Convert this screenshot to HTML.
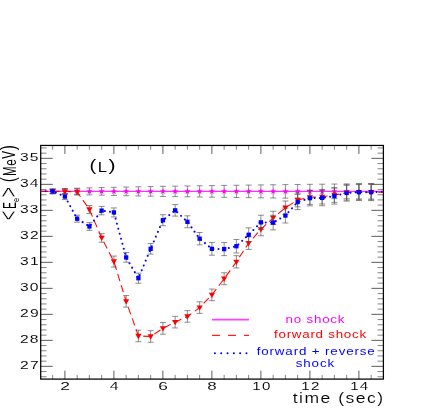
<!DOCTYPE html>
<html><head><meta charset="utf-8"><title>chart</title>
<style>
html,body{margin:0;padding:0;background:#fff;}
body{width:436px;height:409px;position:relative;overflow:hidden;font-family:"Liberation Sans",sans-serif;}
.t{position:absolute;white-space:nowrap;line-height:1;transform-origin:left top;color:#111;font-family:"Liberation Sans",sans-serif;}
</style></head><body>
<svg width="436" height="409" viewBox="0 0 436 409" style="position:absolute;left:0;top:0;will-change:transform">
<defs><clipPath id="c"><rect x="40.70" y="145.45" width="342.70" height="233.65"/></clipPath></defs>
<path d="M64.90 379.10 v-8.50 M64.90 145.45 v8.50 M113.90 379.10 v-8.50 M113.90 145.45 v8.50 M162.90 379.10 v-8.50 M162.90 145.45 v8.50 M211.90 379.10 v-8.50 M211.90 145.45 v8.50 M260.90 379.10 v-8.50 M260.90 145.45 v8.50 M309.90 379.10 v-8.50 M309.90 145.45 v8.50 M358.90 379.10 v-8.50 M358.90 145.45 v8.50 M40.70 366.35 h12.00 M383.40 366.35 h-12.00 M40.70 340.35 h12.00 M383.40 340.35 h-12.00 M40.70 314.35 h12.00 M383.40 314.35 h-12.00 M40.70 288.35 h12.00 M383.40 288.35 h-12.00 M40.70 262.35 h12.00 M383.40 262.35 h-12.00 M40.70 236.35 h12.00 M383.40 236.35 h-12.00 M40.70 210.35 h12.00 M383.40 210.35 h-12.00 M40.70 184.35 h12.00 M383.40 184.35 h-12.00 M40.70 158.35 h12.00 M383.40 158.35 h-12.00" stroke="#333" stroke-width="0.8" fill="none"/>
<path d="M52.65 379.10 v-4.20 M52.65 145.45 v4.20 M77.15 379.10 v-4.20 M77.15 145.45 v4.20 M89.40 379.10 v-4.20 M89.40 145.45 v4.20 M101.65 379.10 v-4.20 M101.65 145.45 v4.20 M126.15 379.10 v-4.20 M126.15 145.45 v4.20 M138.40 379.10 v-4.20 M138.40 145.45 v4.20 M150.65 379.10 v-4.20 M150.65 145.45 v4.20 M175.15 379.10 v-4.20 M175.15 145.45 v4.20 M187.40 379.10 v-4.20 M187.40 145.45 v4.20 M199.65 379.10 v-4.20 M199.65 145.45 v4.20 M224.15 379.10 v-4.20 M224.15 145.45 v4.20 M236.40 379.10 v-4.20 M236.40 145.45 v4.20 M248.65 379.10 v-4.20 M248.65 145.45 v4.20 M273.15 379.10 v-4.20 M273.15 145.45 v4.20 M285.40 379.10 v-4.20 M285.40 145.45 v4.20 M297.65 379.10 v-4.20 M297.65 145.45 v4.20 M322.15 379.10 v-4.20 M322.15 145.45 v4.20 M334.40 379.10 v-4.20 M334.40 145.45 v4.20 M346.65 379.10 v-4.20 M346.65 145.45 v4.20 M371.15 379.10 v-4.20 M371.15 145.45 v4.20 M40.70 376.75 h5.80 M383.40 376.75 h-5.80 M40.70 371.55 h5.80 M383.40 371.55 h-5.80 M40.70 361.15 h5.80 M383.40 361.15 h-5.80 M40.70 355.95 h5.80 M383.40 355.95 h-5.80 M40.70 350.75 h5.80 M383.40 350.75 h-5.80 M40.70 345.55 h5.80 M383.40 345.55 h-5.80 M40.70 335.15 h5.80 M383.40 335.15 h-5.80 M40.70 329.95 h5.80 M383.40 329.95 h-5.80 M40.70 324.75 h5.80 M383.40 324.75 h-5.80 M40.70 319.55 h5.80 M383.40 319.55 h-5.80 M40.70 309.15 h5.80 M383.40 309.15 h-5.80 M40.70 303.95 h5.80 M383.40 303.95 h-5.80 M40.70 298.75 h5.80 M383.40 298.75 h-5.80 M40.70 293.55 h5.80 M383.40 293.55 h-5.80 M40.70 283.15 h5.80 M383.40 283.15 h-5.80 M40.70 277.95 h5.80 M383.40 277.95 h-5.80 M40.70 272.75 h5.80 M383.40 272.75 h-5.80 M40.70 267.55 h5.80 M383.40 267.55 h-5.80 M40.70 257.15 h5.80 M383.40 257.15 h-5.80 M40.70 251.95 h5.80 M383.40 251.95 h-5.80 M40.70 246.75 h5.80 M383.40 246.75 h-5.80 M40.70 241.55 h5.80 M383.40 241.55 h-5.80 M40.70 231.15 h5.80 M383.40 231.15 h-5.80 M40.70 225.95 h5.80 M383.40 225.95 h-5.80 M40.70 220.75 h5.80 M383.40 220.75 h-5.80 M40.70 215.55 h5.80 M383.40 215.55 h-5.80 M40.70 205.15 h5.80 M383.40 205.15 h-5.80 M40.70 199.95 h5.80 M383.40 199.95 h-5.80 M40.70 194.75 h5.80 M383.40 194.75 h-5.80 M40.70 189.55 h5.80 M383.40 189.55 h-5.80 M40.70 179.15 h5.80 M383.40 179.15 h-5.80 M40.70 173.95 h5.80 M383.40 173.95 h-5.80 M40.70 168.75 h5.80 M383.40 168.75 h-5.80 M40.70 163.55 h5.80 M383.40 163.55 h-5.80 M40.70 153.15 h5.80 M383.40 153.15 h-5.80 M40.70 147.95 h5.80 M383.40 147.95 h-5.80" stroke="#666" stroke-width="0.8" fill="none"/>
<rect x="40.70" y="145.45" width="342.70" height="233.65" fill="none" stroke="#000" stroke-width="1.25"/>
<g clip-path="url(#c)">
<path d="M52.65 189.16 V193.58 M49.65 189.16 h6 M49.65 193.58 h6 M64.90 188.62 V194.12 M61.90 188.62 h6 M61.90 194.12 h6 M77.15 188.20 V194.54 M74.15 188.20 h6 M74.15 194.54 h6 M89.40 187.85 V194.89 M86.40 187.85 h6 M86.40 194.89 h6 M101.65 187.54 V195.20 M98.65 187.54 h6 M98.65 195.20 h6 M113.90 187.27 V195.47 M110.90 187.27 h6 M110.90 195.47 h6 M126.15 187.01 V195.73 M123.15 187.01 h6 M123.15 195.73 h6 M138.40 186.77 V195.97 M135.40 186.77 h6 M135.40 195.97 h6 M150.65 186.55 V196.19 M147.65 186.55 h6 M147.65 196.19 h6 M162.90 186.33 V196.41 M159.90 186.33 h6 M159.90 196.41 h6 M175.15 186.13 V196.61 M172.15 186.13 h6 M172.15 196.61 h6 M187.40 185.94 V196.80 M184.40 185.94 h6 M184.40 196.80 h6 M199.65 185.75 V196.99 M196.65 185.75 h6 M196.65 196.99 h6 M211.90 185.58 V197.16 M208.90 185.58 h6 M208.90 197.16 h6 M224.15 185.40 V197.34 M221.15 185.40 h6 M221.15 197.34 h6 M236.40 185.24 V197.50 M233.40 185.24 h6 M233.40 197.50 h6 M248.65 185.08 V197.66 M245.65 185.08 h6 M245.65 197.66 h6 M260.90 184.92 V197.82 M257.90 184.92 h6 M257.90 197.82 h6 M273.15 184.77 V197.97 M270.15 184.77 h6 M270.15 197.97 h6 M285.40 184.62 V198.12 M282.40 184.62 h6 M282.40 198.12 h6 M297.65 184.48 V198.26 M294.65 184.48 h6 M294.65 198.26 h6 M309.90 184.33 V198.41 M306.90 184.33 h6 M306.90 198.41 h6 M322.15 184.20 V198.54 M319.15 184.20 h6 M319.15 198.54 h6 M334.40 184.06 V198.68 M331.40 184.06 h6 M331.40 198.68 h6 M346.65 183.93 V198.81 M343.65 183.93 h6 M343.65 198.81 h6 M358.90 183.80 V198.94 M355.90 183.80 h6 M355.90 198.94 h6 M371.15 183.67 V199.07 M368.15 183.67 h6 M368.15 199.07 h6" stroke="#505050" stroke-width="0.65" fill="none"/>
<polyline points="40.40,191.37 52.65,191.37 64.90,191.37 77.15,191.37 89.40,191.37 101.65,191.37 113.90,191.37 126.15,191.37 138.40,191.37 150.65,191.37 162.90,191.37 175.15,191.37 187.40,191.37 199.65,191.37 211.90,191.37 224.15,191.37 236.40,191.37 248.65,191.37 260.90,191.37 273.15,191.37 285.40,191.37 297.65,191.37 309.90,191.37 322.15,191.37 334.40,191.37 346.65,191.37 358.90,191.37 371.15,191.37 383.40,191.37" fill="none" stroke="#ff30ff" stroke-width="1.3"/>
<polygon points="52.65,188.17 53.41,190.32 55.69,190.38 53.89,191.77 54.53,193.96 52.65,192.67 50.77,193.96 51.41,191.77 49.61,190.38 51.89,190.32" fill="#ff00ff"/>
<polygon points="64.90,188.17 65.66,190.32 67.94,190.38 66.14,191.77 66.78,193.96 64.90,192.67 63.02,193.96 63.66,191.77 61.86,190.38 64.14,190.32" fill="#ff00ff"/>
<polygon points="77.15,188.17 77.91,190.32 80.19,190.38 78.39,191.77 79.03,193.96 77.15,192.67 75.27,193.96 75.91,191.77 74.11,190.38 76.39,190.32" fill="#ff00ff"/>
<polygon points="89.40,188.17 90.16,190.32 92.44,190.38 90.64,191.77 91.28,193.96 89.40,192.67 87.52,193.96 88.16,191.77 86.36,190.38 88.64,190.32" fill="#ff00ff"/>
<polygon points="101.65,188.17 102.41,190.32 104.69,190.38 102.89,191.77 103.53,193.96 101.65,192.67 99.77,193.96 100.41,191.77 98.61,190.38 100.89,190.32" fill="#ff00ff"/>
<polygon points="113.90,188.17 114.66,190.32 116.94,190.38 115.14,191.77 115.78,193.96 113.90,192.67 112.02,193.96 112.66,191.77 110.86,190.38 113.14,190.32" fill="#ff00ff"/>
<polygon points="126.15,188.17 126.91,190.32 129.19,190.38 127.39,191.77 128.03,193.96 126.15,192.67 124.27,193.96 124.91,191.77 123.11,190.38 125.39,190.32" fill="#ff00ff"/>
<polygon points="138.40,188.17 139.16,190.32 141.44,190.38 139.64,191.77 140.28,193.96 138.40,192.67 136.52,193.96 137.16,191.77 135.36,190.38 137.64,190.32" fill="#ff00ff"/>
<polygon points="150.65,188.17 151.41,190.32 153.69,190.38 151.89,191.77 152.53,193.96 150.65,192.67 148.77,193.96 149.41,191.77 147.61,190.38 149.89,190.32" fill="#ff00ff"/>
<polygon points="162.90,188.17 163.66,190.32 165.94,190.38 164.14,191.77 164.78,193.96 162.90,192.67 161.02,193.96 161.66,191.77 159.86,190.38 162.14,190.32" fill="#ff00ff"/>
<polygon points="175.15,188.17 175.91,190.32 178.19,190.38 176.39,191.77 177.03,193.96 175.15,192.67 173.27,193.96 173.91,191.77 172.11,190.38 174.39,190.32" fill="#ff00ff"/>
<polygon points="187.40,188.17 188.16,190.32 190.44,190.38 188.64,191.77 189.28,193.96 187.40,192.67 185.52,193.96 186.16,191.77 184.36,190.38 186.64,190.32" fill="#ff00ff"/>
<polygon points="199.65,188.17 200.41,190.32 202.69,190.38 200.89,191.77 201.53,193.96 199.65,192.67 197.77,193.96 198.41,191.77 196.61,190.38 198.89,190.32" fill="#ff00ff"/>
<polygon points="211.90,188.17 212.66,190.32 214.94,190.38 213.14,191.77 213.78,193.96 211.90,192.67 210.02,193.96 210.66,191.77 208.86,190.38 211.14,190.32" fill="#ff00ff"/>
<polygon points="224.15,188.17 224.91,190.32 227.19,190.38 225.39,191.77 226.03,193.96 224.15,192.67 222.27,193.96 222.91,191.77 221.11,190.38 223.39,190.32" fill="#ff00ff"/>
<polygon points="236.40,188.17 237.16,190.32 239.44,190.38 237.64,191.77 238.28,193.96 236.40,192.67 234.52,193.96 235.16,191.77 233.36,190.38 235.64,190.32" fill="#ff00ff"/>
<polygon points="248.65,188.17 249.41,190.32 251.69,190.38 249.89,191.77 250.53,193.96 248.65,192.67 246.77,193.96 247.41,191.77 245.61,190.38 247.89,190.32" fill="#ff00ff"/>
<polygon points="260.90,188.17 261.66,190.32 263.94,190.38 262.14,191.77 262.78,193.96 260.90,192.67 259.02,193.96 259.66,191.77 257.86,190.38 260.14,190.32" fill="#ff00ff"/>
<polygon points="273.15,188.17 273.91,190.32 276.19,190.38 274.39,191.77 275.03,193.96 273.15,192.67 271.27,193.96 271.91,191.77 270.11,190.38 272.39,190.32" fill="#ff00ff"/>
<polygon points="285.40,188.17 286.16,190.32 288.44,190.38 286.64,191.77 287.28,193.96 285.40,192.67 283.52,193.96 284.16,191.77 282.36,190.38 284.64,190.32" fill="#ff00ff"/>
<polygon points="297.65,188.17 298.41,190.32 300.69,190.38 298.89,191.77 299.53,193.96 297.65,192.67 295.77,193.96 296.41,191.77 294.61,190.38 296.89,190.32" fill="#ff00ff"/>
<polygon points="309.90,188.17 310.66,190.32 312.94,190.38 311.14,191.77 311.78,193.96 309.90,192.67 308.02,193.96 308.66,191.77 306.86,190.38 309.14,190.32" fill="#ff00ff"/>
<polygon points="322.15,188.17 322.91,190.32 325.19,190.38 323.39,191.77 324.03,193.96 322.15,192.67 320.27,193.96 320.91,191.77 319.11,190.38 321.39,190.32" fill="#ff00ff"/>
<polygon points="334.40,188.17 335.16,190.32 337.44,190.38 335.64,191.77 336.28,193.96 334.40,192.67 332.52,193.96 333.16,191.77 331.36,190.38 333.64,190.32" fill="#ff00ff"/>
<polygon points="346.65,188.17 347.41,190.32 349.69,190.38 347.89,191.77 348.53,193.96 346.65,192.67 344.77,193.96 345.41,191.77 343.61,190.38 345.89,190.32" fill="#ff00ff"/>
<polygon points="358.90,188.17 359.66,190.32 361.94,190.38 360.14,191.77 360.78,193.96 358.90,192.67 357.02,193.96 357.66,191.77 355.86,190.38 358.14,190.32" fill="#ff00ff"/>
<polygon points="371.15,188.17 371.91,190.32 374.19,190.38 372.39,191.77 373.03,193.96 371.15,192.67 369.27,193.96 369.91,191.77 368.11,190.38 370.39,190.32" fill="#ff00ff"/>
<path d="M52.65 189.16 V193.58 M49.65 189.16 h6 M49.65 193.58 h6 M64.90 188.62 V194.12 M61.90 188.62 h6 M61.90 194.12 h6 M77.15 188.72 V195.06 M74.15 188.72 h6 M74.15 195.06 h6 M89.40 205.57 V213.57 M86.40 205.57 h6 M86.40 213.57 h6 M101.65 233.61 V242.21 M98.65 233.61 h6 M98.65 242.21 h6 M113.90 256.07 V267.07 M110.90 256.07 h6 M110.90 267.07 h6 M126.15 295.55 V307.15 M123.15 295.55 h6 M123.15 307.15 h6 M138.40 330.13 V341.73 M135.40 330.13 h6 M135.40 341.73 h6 M150.65 330.65 V342.25 M147.65 330.65 h6 M147.65 342.25 h6 M162.90 322.59 V334.19 M159.90 322.59 h6 M159.90 334.19 h6 M175.15 316.35 V327.95 M172.15 316.35 h6 M172.15 327.95 h6 M187.40 310.63 V322.23 M184.40 310.63 h6 M184.40 322.23 h6 M199.65 301.79 V313.39 M196.65 301.79 h6 M196.65 313.39 h6 M211.90 289.05 V300.65 M208.90 289.05 h6 M208.90 300.65 h6 M224.15 272.76 V284.70 M221.15 272.76 h6 M221.15 284.70 h6 M236.40 255.69 V267.97 M233.40 255.69 h6 M233.40 267.97 h6 M248.65 236.81 V249.41 M245.65 236.81 h6 M245.65 249.41 h6 M260.90 222.87 V235.79 M257.90 222.87 h6 M257.90 235.79 h6 M273.15 211.28 V224.50 M270.15 211.28 h6 M270.15 224.50 h6 M285.40 200.99 V214.51 M282.40 200.99 h6 M282.40 214.51 h6 M297.65 193.05 V206.85 M294.65 193.05 h6 M294.65 206.85 h6 M309.90 190.31 V204.39 M306.90 190.31 h6 M306.90 204.39 h6 M322.15 189.65 V204.01 M319.15 189.65 h6 M319.15 204.01 h6 M334.40 187.69 V202.33 M331.40 187.69 h6 M331.40 202.33 h6 M346.65 185.22 V200.12 M343.65 185.22 h6 M343.65 200.12 h6 M358.90 184.57 V199.73 M355.90 184.57 h6 M355.90 199.73 h6 M371.15 184.44 V199.86 M368.15 184.44 h6 M368.15 199.86 h6" stroke="#505050" stroke-width="0.65" fill="none"/>
<polyline points="40.40,191.37 52.65,191.37 64.90,191.37 77.15,191.89 89.40,209.57 101.65,237.91 113.90,261.57 126.15,301.35 138.40,335.93 150.65,336.45 162.90,328.39 175.15,322.15 187.40,316.43 199.65,307.59 211.90,294.85 224.15,278.73 236.40,261.83 248.65,243.11 260.90,229.33 273.15,217.89 285.40,207.75 297.65,199.95 309.90,197.35 322.15,196.83 334.40,195.01 346.65,192.67 358.90,192.15 371.15,192.15 383.40,192.15" fill="none" stroke="#ff0000" stroke-width="1.05" stroke-dasharray="7.5 4.2"/>
<polygon points="49.55,189.17 55.75,189.17 52.65,194.57" fill="#ff0000"/>
<polygon points="61.80,189.17 68.00,189.17 64.90,194.57" fill="#ff0000"/>
<polygon points="74.05,189.69 80.25,189.69 77.15,195.09" fill="#ff0000"/>
<polygon points="86.30,207.37 92.50,207.37 89.40,212.77" fill="#ff0000"/>
<polygon points="98.55,235.71 104.75,235.71 101.65,241.11" fill="#ff0000"/>
<polygon points="110.80,259.37 117.00,259.37 113.90,264.77" fill="#ff0000"/>
<polygon points="123.05,299.15 129.25,299.15 126.15,304.55" fill="#ff0000"/>
<polygon points="135.30,333.73 141.50,333.73 138.40,339.13" fill="#ff0000"/>
<polygon points="147.55,334.25 153.75,334.25 150.65,339.65" fill="#ff0000"/>
<polygon points="159.80,326.19 166.00,326.19 162.90,331.59" fill="#ff0000"/>
<polygon points="172.05,319.95 178.25,319.95 175.15,325.35" fill="#ff0000"/>
<polygon points="184.30,314.23 190.50,314.23 187.40,319.63" fill="#ff0000"/>
<polygon points="196.55,305.39 202.75,305.39 199.65,310.79" fill="#ff0000"/>
<polygon points="208.80,292.65 215.00,292.65 211.90,298.05" fill="#ff0000"/>
<polygon points="221.05,276.53 227.25,276.53 224.15,281.93" fill="#ff0000"/>
<polygon points="233.30,259.63 239.50,259.63 236.40,265.03" fill="#ff0000"/>
<polygon points="245.55,240.91 251.75,240.91 248.65,246.31" fill="#ff0000"/>
<polygon points="257.80,227.13 264.00,227.13 260.90,232.53" fill="#ff0000"/>
<polygon points="270.05,215.69 276.25,215.69 273.15,221.09" fill="#ff0000"/>
<polygon points="282.30,205.55 288.50,205.55 285.40,210.95" fill="#ff0000"/>
<polygon points="294.55,197.75 300.75,197.75 297.65,203.15" fill="#ff0000"/>
<polygon points="306.80,195.15 313.00,195.15 309.90,200.55" fill="#ff0000"/>
<polygon points="319.05,194.63 325.25,194.63 322.15,200.03" fill="#ff0000"/>
<polygon points="331.30,192.81 337.50,192.81 334.40,198.21" fill="#ff0000"/>
<polygon points="343.55,190.47 349.75,190.47 346.65,195.87" fill="#ff0000"/>
<polygon points="355.80,189.95 362.00,189.95 358.90,195.35" fill="#ff0000"/>
<polygon points="368.05,189.95 374.25,189.95 371.15,195.35" fill="#ff0000"/>
<path d="M52.65 188.94 V193.80 M49.65 188.94 h6 M49.65 193.80 h6 M64.90 193.54 V199.59 M61.90 193.54 h6 M61.90 199.59 h6 M77.15 215.19 V222.15 M74.15 215.19 h6 M74.15 222.15 h6 M89.40 222.60 V230.34 M86.40 222.60 h6 M86.40 230.34 h6 M101.65 206.40 V214.82 M98.65 206.40 h6 M98.65 214.82 h6 M113.90 207.92 V216.94 M110.90 207.92 h6 M110.90 216.94 h6 M126.15 252.61 V262.21 M123.15 252.61 h6 M123.15 262.21 h6 M138.40 273.15 V283.27 M135.40 273.15 h6 M135.40 283.27 h6 M150.65 243.52 V254.14 M147.65 243.52 h6 M147.65 254.14 h6 M162.90 214.69 V225.77 M159.90 214.69 h6 M159.90 225.77 h6 M175.15 204.59 V216.11 M172.15 204.59 h6 M172.15 216.11 h6 M187.40 215.82 V227.76 M184.40 215.82 h6 M184.40 227.76 h6 M199.65 232.51 V244.87 M196.65 232.51 h6 M196.65 244.87 h6 M211.90 242.46 V255.20 M208.90 242.46 h6 M208.90 255.20 h6 M224.15 242.53 V255.65 M221.15 242.53 h6 M221.15 255.65 h6 M236.40 239.48 V252.98 M233.40 239.48 h6 M233.40 252.98 h6 M248.65 227.87 V241.71 M245.65 227.87 h6 M245.65 241.71 h6 M260.90 215.22 V229.41 M257.90 215.22 h6 M257.90 229.41 h6 M273.15 215.31 V229.83 M270.15 215.31 h6 M270.15 229.83 h6 M285.40 208.12 V222.98 M282.40 208.12 h6 M282.40 222.98 h6 M297.65 194.45 V209.61 M294.65 194.45 h6 M294.65 209.61 h6 M309.90 190.39 V205.87 M306.90 190.39 h6 M306.90 205.87 h6 M322.15 189.98 V205.76 M319.15 189.98 h6 M319.15 205.76 h6 M334.40 188.01 V204.09 M331.40 188.01 h6 M331.40 204.09 h6 M346.65 184.75 V201.11 M343.65 184.75 h6 M343.65 201.11 h6 M358.90 183.82 V200.48 M355.90 183.82 h6 M355.90 200.48 h6 M371.15 183.68 V200.62 M368.15 183.68 h6 M368.15 200.62 h6" stroke="#505050" stroke-width="0.65" fill="none"/>
<polyline points="40.40,191.37 52.65,191.37 64.90,196.57 77.15,218.67 89.40,226.47 101.65,210.61 113.90,212.43 126.15,257.41 138.40,278.21 150.65,248.83 162.90,220.23 175.15,210.35 187.40,221.79 199.65,238.69 211.90,248.83 224.15,249.09 236.40,246.23 248.65,234.79 260.90,222.31 273.15,222.57 285.40,215.55 297.65,202.03 309.90,198.13 322.15,197.87 334.40,196.05 346.65,192.93 358.90,192.15 371.15,192.15 383.40,191.63" fill="none" stroke="#0000ff" stroke-width="2" stroke-dasharray="0.01 5.2" stroke-linecap="round"/>
<rect x="50.50" y="189.22" width="4.3" height="4.3" fill="#0000ff"/>
<rect x="62.75" y="194.42" width="4.3" height="4.3" fill="#0000ff"/>
<rect x="75.00" y="216.52" width="4.3" height="4.3" fill="#0000ff"/>
<rect x="87.25" y="224.32" width="4.3" height="4.3" fill="#0000ff"/>
<rect x="99.50" y="208.46" width="4.3" height="4.3" fill="#0000ff"/>
<rect x="111.75" y="210.28" width="4.3" height="4.3" fill="#0000ff"/>
<rect x="124.00" y="255.26" width="4.3" height="4.3" fill="#0000ff"/>
<rect x="136.25" y="276.06" width="4.3" height="4.3" fill="#0000ff"/>
<rect x="148.50" y="246.68" width="4.3" height="4.3" fill="#0000ff"/>
<rect x="160.75" y="218.08" width="4.3" height="4.3" fill="#0000ff"/>
<rect x="173.00" y="208.20" width="4.3" height="4.3" fill="#0000ff"/>
<rect x="185.25" y="219.64" width="4.3" height="4.3" fill="#0000ff"/>
<rect x="197.50" y="236.54" width="4.3" height="4.3" fill="#0000ff"/>
<rect x="209.75" y="246.68" width="4.3" height="4.3" fill="#0000ff"/>
<rect x="222.00" y="246.94" width="4.3" height="4.3" fill="#0000ff"/>
<rect x="234.25" y="244.08" width="4.3" height="4.3" fill="#0000ff"/>
<rect x="246.50" y="232.64" width="4.3" height="4.3" fill="#0000ff"/>
<rect x="258.75" y="220.16" width="4.3" height="4.3" fill="#0000ff"/>
<rect x="271.00" y="220.42" width="4.3" height="4.3" fill="#0000ff"/>
<rect x="283.25" y="213.40" width="4.3" height="4.3" fill="#0000ff"/>
<rect x="295.50" y="199.88" width="4.3" height="4.3" fill="#0000ff"/>
<rect x="307.75" y="195.98" width="4.3" height="4.3" fill="#0000ff"/>
<rect x="320.00" y="195.72" width="4.3" height="4.3" fill="#0000ff"/>
<rect x="332.25" y="193.90" width="4.3" height="4.3" fill="#0000ff"/>
<rect x="344.50" y="190.78" width="4.3" height="4.3" fill="#0000ff"/>
<rect x="356.75" y="190.00" width="4.3" height="4.3" fill="#0000ff"/>
<rect x="369.00" y="190.00" width="4.3" height="4.3" fill="#0000ff"/>
</g>
<path d="M212 319.6 H249" stroke="#ff40ff" stroke-width="1.6"/>
<path d="M212 335.3 H249" stroke="#ff2020" stroke-width="1.2" stroke-dasharray="8 8"/>
<path d="M214.9 353.3 H247" stroke="#0000ff" stroke-width="2" stroke-dasharray="0.01 6.3" stroke-linecap="round"/>
<g font-family="Liberation Sans, sans-serif"><text transform="translate(19.900 369.450) scale(1.3500 1)" font-size="11.60" fill="#000" textLength="13.907" lengthAdjust="spacing" stroke="#fff" stroke-width="0.06">27</text>
<text transform="translate(19.900 343.450) scale(1.3500 1)" font-size="11.60" fill="#000" textLength="13.815" lengthAdjust="spacing" stroke="#fff" stroke-width="0.06">28</text>
<text transform="translate(19.900 317.450) scale(1.3500 1)" font-size="11.60" fill="#000" textLength="13.907" lengthAdjust="spacing" stroke="#fff" stroke-width="0.06">29</text>
<text transform="translate(20.025 291.450) scale(1.3500 1)" font-size="11.60" fill="#000" textLength="13.722" lengthAdjust="spacing" stroke="#fff" stroke-width="0.06">30</text>
<text transform="translate(20.025 265.450) scale(1.3500 1)" font-size="11.60" fill="#000" textLength="13.815" lengthAdjust="spacing" stroke="#fff" stroke-width="0.06">31</text>
<text transform="translate(20.025 239.450) scale(1.3500 1)" font-size="11.60" fill="#000" textLength="13.815" lengthAdjust="spacing" stroke="#fff" stroke-width="0.06">32</text>
<text transform="translate(20.025 213.450) scale(1.3500 1)" font-size="11.60" fill="#000" textLength="13.722" lengthAdjust="spacing" stroke="#fff" stroke-width="0.06">33</text>
<text transform="translate(20.025 187.450) scale(1.3500 1)" font-size="11.60" fill="#000" textLength="13.630" lengthAdjust="spacing" stroke="#fff" stroke-width="0.06">34</text>
<text transform="translate(20.025 161.450) scale(1.3500 1)" font-size="11.60" fill="#000" textLength="13.722" lengthAdjust="spacing" stroke="#fff" stroke-width="0.06">35</text>
<text transform="translate(60.125 390.200) scale(1.5709 1)" font-size="11.20" fill="#000" textLength="5.093" lengthAdjust="spacing" stroke="#fff" stroke-width="0.06">2</text>
<text transform="translate(109.625 390.200) scale(1.4164 1)" font-size="11.20" fill="#000" textLength="5.648" lengthAdjust="spacing" stroke="#fff" stroke-width="0.06">4</text>
<text transform="translate(158.125 390.200) scale(1.5429 1)" font-size="11.20" fill="#000" textLength="5.185" lengthAdjust="spacing" stroke="#fff" stroke-width="0.06">6</text>
<text transform="translate(207.250 390.200) scale(1.5158 1)" font-size="11.20" fill="#000" textLength="5.278" lengthAdjust="spacing" stroke="#fff" stroke-width="0.06">8</text>
<text transform="translate(252.200 390.200) scale(1.3500 1)" font-size="11.20" fill="#000" textLength="13.407" lengthAdjust="spacing" stroke="#fff" stroke-width="0.06">10</text>
<text transform="translate(301.200 390.200) scale(1.3500 1)" font-size="11.20" fill="#000" textLength="13.500" lengthAdjust="spacing" stroke="#fff" stroke-width="0.06">12</text>
<text transform="translate(350.200 390.200) scale(1.3500 1)" font-size="11.20" fill="#000" textLength="13.315" lengthAdjust="spacing" stroke="#fff" stroke-width="0.06">14</text>
<text transform="translate(292.750 403.400) scale(1.1700 1)" font-size="15.00" fill="#000" textLength="77.179" lengthAdjust="spacing" stroke="#fff" stroke-width="0.10">time (sec)</text>
<text transform="translate(285.550 322.800) scale(1.3000 1)" font-size="10.30" fill="#ff00ff" textLength="45.346" lengthAdjust="spacing">no shock</text>
<text transform="translate(274.025 338.300) scale(1.3000 1)" font-size="10.30" fill="#ff0000" textLength="70.846" lengthAdjust="spacing">forward shock</text>
<text transform="translate(256.675 355.400) scale(1.3000 1)" font-size="10.30" fill="#0000ff" textLength="90.846" lengthAdjust="spacing">forward + reverse</text>
<text transform="translate(295.625 366.600) scale(1.3000 1)" font-size="10.30" fill="#0000ff" textLength="29.673" lengthAdjust="spacing">shock</text>
<text transform="translate(89.400 171.321) scale(2.0000 1.5615)" font-size="10" fill="#000" stroke="#fff" stroke-width="0.000">(</text><text transform="translate(97.770 171.600) scale(1.6629 1.3768)" font-size="10" fill="#000" stroke="#fff" stroke-width="0.000">L</text><text transform="translate(108.388 171.321) scale(2.1154 1.5615)" font-size="10" fill="#000" stroke="#fff" stroke-width="0.000">)</text>
<g><text transform="rotate(-90) translate(-220.104 17.412) scale(1.6082 2.5490)" font-size="10" fill="#000" stroke="#fff" stroke-width="0.150">&lt;</text><text transform="rotate(-90) translate(-208.793 15.500) scale(0.9908 1.9275)" font-size="10" fill="#000" stroke="#fff" stroke-width="0.000">E</text><text transform="rotate(-90) translate(-201.929 18.502) scale(0.7312 0.9818)" font-size="10" fill="#000" stroke="#fff" stroke-width="0.000">e</text><text transform="rotate(-90) translate(-197.166 17.412) scale(1.7320 2.5490)" font-size="10" fill="#000" stroke="#fff" stroke-width="0.150">&gt;</text><text transform="rotate(-90) translate(-181.938 15.398) scale(1.3962 2.0963)" font-size="10" fill="#000" stroke="#fff" stroke-width="0.000">(</text><text transform="rotate(-90) translate(-176.119 15.800) scale(1.1493 1.9130)" font-size="10" fill="#000" stroke="#fff" stroke-width="0.000">M</text><text transform="rotate(-90) translate(-165.832 15.633) scale(1.1828 1.6727)" font-size="10" fill="#000" stroke="#fff" stroke-width="0.000">e</text><text transform="rotate(-90) translate(-158.758 15.400) scale(1.1603 1.8841)" font-size="10" fill="#000" stroke="#fff" stroke-width="0.000">V</text><text transform="rotate(-90) translate(-150.354 15.243) scale(1.5385 2.0749)" font-size="10" fill="#000" stroke="#fff" stroke-width="0.000">)</text></g></g></svg>

</body></html>
